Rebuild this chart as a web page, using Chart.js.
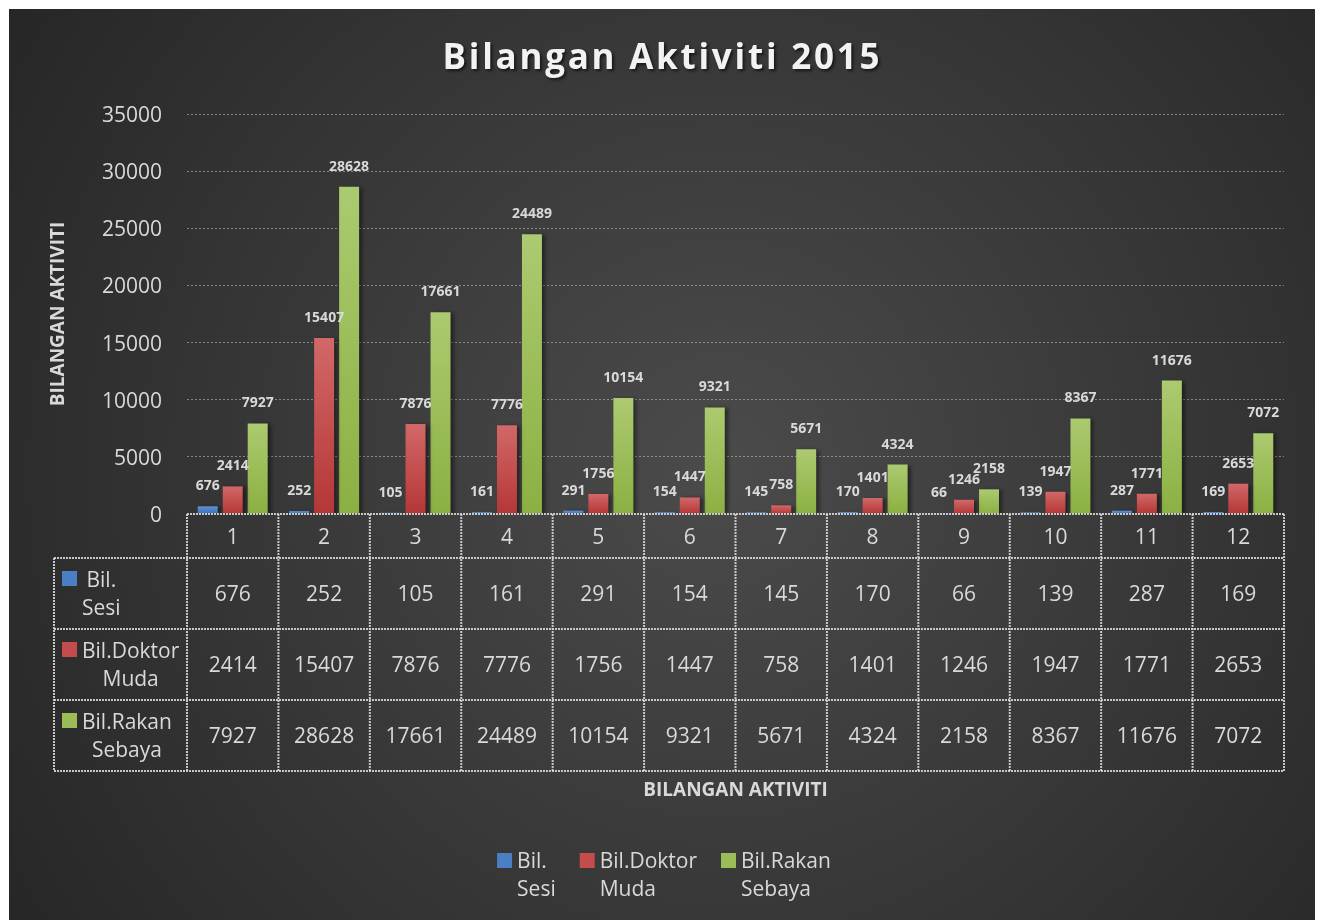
<!DOCTYPE html>
<html>
<head>
<meta charset="utf-8">
<script src="https://cdn.jsdelivr.net/npm/chart.js@4"></script>
<style>
  html, body { margin: 0; padding: 0; background: #ffffff; }
  canvas { display: block; }
</style>
</head>
<body>
<canvas id="c" width="1322" height="920"></canvas>
<script>
const categories = ['1','2','3','4','5','6','7','8','9','10','11','12'];
const seriesNames = [['Bil.', 'Sesi'], ['Bil.Doktor', 'Muda'], ['Bil.Rakan', 'Sebaya']];
const bilSesi = [676, 252, 105, 161, 291, 154, 145, 170, 66, 139, 287, 169];
const bilDoktorMuda = [2414, 15407, 7876, 7776, 1756, 1447, 758, 1401, 1246, 1947, 1771, 2653];
const bilRakanSebaya = [7927, 28628, 17661, 24489, 10154, 9321, 5671, 4324, 2158, 8367, 11676, 7072];
const yTicks = [0, 5000, 10000, 15000, 20000, 25000, 30000, 35000];
const titleText = 'Bilangan Aktiviti 2015';
const axisTitle = 'BILANGAN AKTIVITI';

const FONT = '"Open Sans", "DejaVu Sans", sans-serif';
const TXT = '#d9d9d9';
const colors = [
  { top: '#5d92d8', bot: '#3c6fb4', key: '#4a7fc6' },
  { top: '#d26868', bot: '#b53636', key: '#c44c4c' },
  { top: '#acca70', bot: '#8bb042', key: '#9bbd57' }
];

function barGradient(idx) {
  return (ctx) => {
    const chart = ctx.chart;
    const c = colors[idx];
    if (!chart.chartArea || ctx.type !== 'data') return c.key;
    const y = chart.scales.y;
    const top = y.getPixelForValue(ctx.raw);
    const bot = y.getPixelForValue(0);
    if (!isFinite(top) || Math.abs(bot - top) < 1) return c.bot;
    const g = chart.ctx.createLinearGradient(0, top, 0, bot);
    g.addColorStop(0, c.top);
    g.addColorStop(1, c.bot);
    return g;
  };
}

const bgPlugin = {
  id: 'bg',
  beforeDraw(chart) {
    const ctx = chart.ctx;
    ctx.save();
    ctx.fillStyle = '#ffffff';
    ctx.fillRect(0, 0, chart.width, chart.height);
    const g = ctx.createRadialGradient(720, 470, 0, 720, 470, 900);
    g.addColorStop(0, '#4b4b4b');
    g.addColorStop(1, '#242424');
    ctx.fillStyle = g;
    ctx.fillRect(9, 9, 1306, 911);
    ctx.restore();
  }
};

const shadowPlugin = {
  id: 'barShadow',
  beforeDatasetsDraw(chart) {
    const ctx = chart.ctx;
    ctx.save();
    ctx.shadowColor = 'rgba(0,0,0,0.45)';
    ctx.shadowOffsetX = 3;
    ctx.shadowOffsetY = 1;
    ctx.shadowBlur = 4;
  },
  afterDatasetsDraw(chart) {
    chart.ctx.restore();
  }
};

const labelPlugin = {
  id: 'valueLabels',
  afterDatasetsDraw(chart) {
    const ctx = chart.ctx;
    ctx.save();
    ctx.font = 'bold 14px ' + FONT;
    ctx.fillStyle = TXT;
    ctx.textAlign = 'center';
    ctx.textBaseline = 'middle';
    chart.data.datasets.forEach((ds, di) => {
      const meta = chart.getDatasetMeta(di);
      meta.data.forEach((bar, i) => {
        ctx.fillText(String(ds.data[i]), bar.x, bar.y - 20);
      });
    });
    ctx.restore();
  }
};

function dottedLine(ctx, x1, y1, x2, y2) {
  ctx.beginPath();
  ctx.moveTo(x1, y1);
  ctx.lineTo(x2, y2);
  ctx.stroke();
}

const tablePlugin = {
  id: 'dataTable',
  afterDraw(chart) {
    const ctx = chart.ctx;
    const xs = chart.scales.x;
    const area = chart.chartArea;
    const n = categories.length;
    const cw = (area.right - area.left) / n;
    const rowTop = area.bottom;
    const rows = [rowTop, rowTop + 44, rowTop + 115, rowTop + 186, rowTop + 257];
    const leftCol = 54;
    ctx.save();
    ctx.fillStyle = TXT;
    ctx.textAlign = 'center';
    ctx.textBaseline = 'middle';
    ctx.font = '21px ' + FONT;
    categories.forEach((c, i) => {
      ctx.fillText(c, xs.getPixelForValue(i), (rows[0] + rows[1]) / 2 + 2);
    });
    const series = [bilSesi, bilDoktorMuda, bilRakanSebaya];
    series.forEach((s, si) => {
      const cy = (rows[si + 1] + rows[si + 2]) / 2 + 2;
      s.forEach((v, i) => {
        ctx.fillText(String(v), xs.getPixelForValue(i), cy);
      });
      ctx.fillStyle = colors[si].key;
      ctx.fillRect(62, rows[si + 1] + 13, 15, 15);
      ctx.fillStyle = TXT;
      const lines = seriesNames[si];
      const w = Math.max(...lines.map(l => ctx.measureText(l).width));
      const cx = 82 + w / 2;
      ctx.fillText(lines[0], cx, cy - 14);
      ctx.fillText(lines[1], cx, cy + 14);
    });
    ctx.strokeStyle = 'rgba(215,215,215,0.9)';
    ctx.lineWidth = 2;
    ctx.setLineDash([2, 1]);
    dottedLine(ctx, area.left, rows[0], area.right, rows[0]);
    for (let r = 1; r < rows.length; r++) {
      dottedLine(ctx, leftCol, rows[r], area.right, rows[r]);
    }
    for (let i = 0; i <= n; i++) {
      const x = area.left + i * cw;
      dottedLine(ctx, x, rows[0], x, rows[4]);
    }
    dottedLine(ctx, leftCol, rows[1], leftCol, rows[4]);
    ctx.setLineDash([]);

    ctx.font = 'bold 19px ' + FONT;
    ctx.fillStyle = TXT;
    ctx.fillText(axisTitle, (area.left + area.right) / 2, 791);
    ctx.save();
    ctx.translate(59, (area.top + area.bottom) / 2);
    ctx.rotate(-Math.PI / 2);
    ctx.fillText(axisTitle, 0, 0);
    ctx.restore();

    ctx.save();
    ctx.font = 'bold 35px ' + FONT;
    const base = ctx.measureText(titleText).width;
    const spacing = (437 - base) / (titleText.length - 1);
    ctx.letterSpacing = spacing.toFixed(2) + 'px';
    ctx.shadowColor = 'rgba(0,0,0,0.6)';
    ctx.shadowOffsetX = 2;
    ctx.shadowOffsetY = 2;
    ctx.shadowBlur = 3;
    ctx.fillStyle = '#f2f2f2';
    ctx.textAlign = 'left';
    ctx.textBaseline = 'alphabetic';
    ctx.fillText(titleText, 661 - (base + spacing * (titleText.length - 1)) / 2, 69);
    ctx.restore();

    ctx.font = '21px ' + FONT;
    ctx.textAlign = 'left';
    ctx.textBaseline = 'middle';
    const items = seriesNames.map(lines => 20 + Math.max(...lines.map(l => ctx.measureText(l).width)));
    const gap = 24;
    const total = items.reduce((a, b) => a + b, 0) + gap * (items.length - 1);
    let x = 664 - total / 2;
    seriesNames.forEach((lines, si) => {
      ctx.fillStyle = colors[si].key;
      ctx.fillRect(x, 853, 15, 15);
      ctx.fillStyle = TXT;
      ctx.fillText(lines[0], x + 20, 862);
      ctx.fillText(lines[1], x + 20, 890);
      x += items[si] + gap;
    });
    ctx.restore();
  }
};

new Chart(document.getElementById('c'), {
  type: 'bar',
  data: {
    labels: categories,
    datasets: [
      { label: seriesNames[0].join(' '), data: bilSesi, backgroundColor: barGradient(0) },
      { label: seriesNames[1].join(' '), data: bilDoktorMuda, backgroundColor: barGradient(1) },
      { label: seriesNames[2].join(' '), data: bilRakanSebaya, backgroundColor: barGradient(2) }
    ]
  },
  options: {
    responsive: false,
    animation: false,
    devicePixelRatio: 1,
    layout: { padding: { left: 0, top: 114, right: 38, bottom: 406 } },
    categoryPercentage: 0.82,
    barPercentage: 0.8,
    plugins: {
      legend: { display: false },
      title: { display: false },
      tooltip: { enabled: false }
    },
    scales: {
      x: { display: false },
      y: {
        min: 0,
        max: 35000,
        afterFit(scale) { scale.width = 187; },
        afterBuildTicks(scale) { scale.ticks = yTicks.map(v => ({ value: v })); },
        ticks: {
          color: TXT,
          font: { family: FONT, size: 21 },
          padding: 25,
          labelOffset: 2,
          callback: (v) => String(v)
        },
        grid: {
          color: (c) => c.tick && c.tick.value === 0 ? 'rgba(0,0,0,0)' : 'rgba(200,200,200,0.55)',
          drawTicks: false,
          lineWidth: 1
        },
        border: { display: false, dash: [2, 2] }
      }
    }
  },
  plugins: [bgPlugin, shadowPlugin, labelPlugin, tablePlugin]
});
</script>
</body>
</html>
